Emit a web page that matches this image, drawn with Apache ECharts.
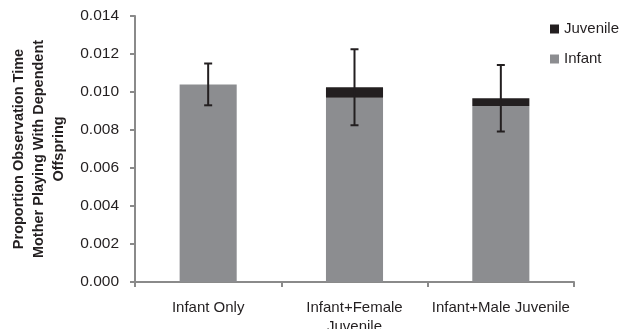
<!DOCTYPE html>
<html>
<head>
<meta charset="utf-8">
<script src="https://cdn.jsdelivr.net/npm/echarts@6/dist/echarts.min.js"></script>
<style>
html,body{margin:0;padding:0;background:#fff;}
#chart{width:630px;height:329px;}
</style>
</head>
<body>
<div id="chart"></div>
<script>
// Groups of dependent offspring present
const categories = ['Infant Only', 'Infant+Female\nJuvenile', 'Infant+Male Juvenile'];
// Stacked proportions of observation time
const infantValues = [0.0104, 0.0097, 0.00926];
const juvenileValues = [0, 0.00055, 0.00041];
// Standard error around each stacked total
const errorValues = [0.0011, 0.0020, 0.00175];
const yTicks = [0, 0.002, 0.004, 0.006, 0.008, 0.010, 0.012, 0.014];

const FONT = 'Liberation Sans';
const TEXT = '#231f20';
const AXIS = '#8a8a8a';

const totals = infantValues.map((v, i) => v + juvenileValues[i]);
const errorData = totals.map((t, i) => [i, t - errorValues[i], t + errorValues[i]]);

const chart = echarts.init(document.getElementById('chart'), null, {renderer: 'canvas'});
chart.setOption({
  animation: false,
  backgroundColor: '#fff',
  textStyle: {fontFamily: FONT, color: TEXT},
  grid: {left: 135, right: 56, top: 16, bottom: 47, containLabel: false, outerBoundsMode: 'none'},
  legend: {
    left: 550, top: 21, padding: 0, orient: 'vertical', itemWidth: 9, itemHeight: 9, itemGap: 14,
    textStyle: {fontFamily: FONT, fontSize: 15, color: TEXT, lineHeight: 16},
    data: [{name: 'Juvenile', icon: 'rect'}, {name: 'Infant', icon: 'rect'}]
  },
  xAxis: {
    type: 'category', data: categories,
    axisLine: {lineStyle: {color: AXIS, width: 2}},
    axisTick: {show: true, length: 5, lineStyle: {color: AXIS, width: 2}},
    axisLabel: {fontFamily: FONT, fontSize: 15, color: TEXT, margin: 16, lineHeight: 19, interval: 0}
  },
  yAxis: {
    type: 'value', min: yTicks[0], max: yTicks[yTicks.length - 1], interval: 0.002,
    name: 'Proportion Observation Time\nMother Playing With Dependent\nOffspring',
    nameLocation: 'middle', nameGap: 55, nameRotate: 90,
    nameTextStyle: {fontFamily: FONT, fontSize: 14.5, fontWeight: 'bold', color: TEXT, lineHeight: 20},
    axisLine: {show: true, lineStyle: {color: AXIS, width: 2}},
    axisTick: {show: true, length: 5, lineStyle: {color: AXIS, width: 2}},
    splitLine: {show: false},
    axisLabel: {fontFamily: FONT, fontSize: 15.5, color: TEXT, margin: 16,
      formatter: v => v.toFixed(3)}
  },
  series: [
    {name: 'Infant', type: 'bar', stack: 'total', data: infantValues, barWidth: '39%',
      itemStyle: {color: '#8c8d90'}},
    {name: 'Juvenile', type: 'bar', stack: 'total', data: juvenileValues, barWidth: '39%',
      itemStyle: {color: '#231f20'}},
    {name: 'err', type: 'custom', data: errorData, z: 10,
      renderItem: function (params, api) {
        const x = api.value(0);
        const lo = api.coord([x, api.value(1)]);
        const hi = api.coord([x, api.value(2)]);
        const cap = 4;
        const style = {stroke: '#231f20', lineWidth: 2};
        return {type: 'group', children: [
          {type: 'line', shape: {x1: lo[0], y1: lo[1], x2: hi[0], y2: hi[1]}, style},
          {type: 'line', shape: {x1: lo[0] - cap, y1: lo[1], x2: lo[0] + cap, y2: lo[1]}, style},
          {type: 'line', shape: {x1: hi[0] - cap, y1: hi[1], x2: hi[0] + cap, y2: hi[1]}, style}
        ]};
      }
    }
  ]
});
</script>
</body>
</html>
